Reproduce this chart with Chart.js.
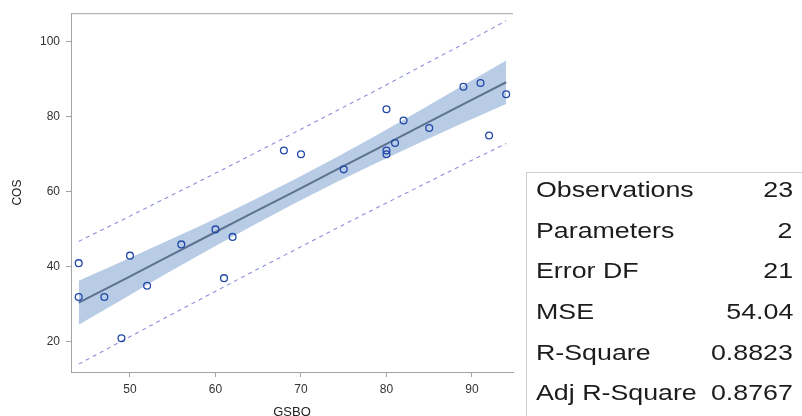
<!DOCTYPE html>
<html>
<head>
<meta charset="utf-8">
<script src="https://cdn.jsdelivr.net/npm/chart.js@4.4.1/dist/chart.umd.min.js"></script>
<style>
  html, body { margin: 0; padding: 0; background: #fff; }
  body { width: 802px; height: 416px; position: relative; overflow: hidden; font-family: 'Liberation Sans', Arial, sans-serif; }
  #wrap { position: absolute; left: 0; top: 0; width: 802px; height: 416px; }
  #statBox { position: absolute; left: 526px; top: 172px; width: 300px; height: 260px; border: 1px solid #cfcfcf; box-sizing: border-box; }
  .statRow { position: absolute; left: 0; width: 802px; height: 40.7px; line-height: 40.7px; font-size: 22.5px; color: #1c1c1c; white-space: nowrap; }
  .statRow .lbl { position: absolute; left: 536px; display: inline-block; transform: scaleX(1.19); transform-origin: left center; }
  .statRow .val { position: absolute; right: 9px; display: inline-block; transform: scaleX(1.19); transform-origin: right center; }
</style>
</head>
<body>
<div id="wrap"><canvas id="fitChart" width="802" height="416"></canvas></div>
<div id="statBox"></div>
<div id="statRows"></div>
<script>
// Quan sát (GSBO, COS)
const obsX = [44, 44, 47, 50, 52, 49, 56, 60, 62, 61, 68, 70, 75, 80, 80, 80, 81, 82, 85, 89, 91, 94, 92];
const obsY = [41, 32, 32, 43, 35, 21, 46, 50, 48, 37, 71, 70, 66, 82, 71, 70, 73, 79, 77, 88, 89, 86, 75];

// Đường hồi quy, dải tin cậy và giới hạn dự báo
const bandX   = [44, 49, 54, 59, 64, 69, 74, 79, 84, 89, 94];
const fitY    = [30.5, 36.3, 42.2, 48.1, 54.0, 59.8, 65.7, 71.6, 77.5, 83.4, 89.2];
const clmLow  = [24.6, 31.2, 37.9, 44.3, 50.6, 56.6, 62.4, 67.9, 73.2, 78.4, 83.4];
const clmHigh = [36.3, 41.4, 46.6, 51.8, 57.3, 63.0, 69.0, 75.3, 81.8, 88.4, 95.0];
const piLow   = [14.1, 20.2, 26.3, 32.3, 38.3, 44.2, 50.1, 55.9, 61.6, 67.3, 72.9];
const piHigh  = [46.8, 52.4, 58.1, 63.8, 69.6, 75.5, 81.4, 87.3, 93.4, 99.4, 105.6];

// Nhãn trục
const xTicks = [50, 60, 70, 80, 90];
const yTicks = [20, 40, 60, 80, 100];

// Bảng thống kê
const statLabels = ['Observations', 'Parameters', 'Error DF', 'MSE', 'R-Square', 'Adj R-Square'];
const statValues = ['23', '2', '21', '54.04', '0.8823', '0.8767'];

const AXIS_COLOR = '#a3a3a3';
const FONT = "'Liberation Sans', Arial, sans-serif";

function toPoints(xs, ys) {
    return xs.map((x, i) => ({ x: x, y: ys[i] }));
}

// Viền trên của khung biểu đồ
const frameTop = {
    id: 'frameTop',
    afterDraw(chart) {
        const { ctx, chartArea } = chart;
        ctx.save();
        ctx.strokeStyle = AXIS_COLOR;
        ctx.lineWidth = 1;
        ctx.beginPath();
        ctx.moveTo(chartArea.left, chartArea.top + 0.5);
        ctx.lineTo(chartArea.right, chartArea.top + 0.5);
        ctx.stroke();
        ctx.restore();
    }
};

function buildChart() {
    const ctx = document.getElementById('fitChart').getContext('2d');
    new Chart(ctx, {
        type: 'scatter',
        data: {
            datasets: [
                {
                    label: 'CLM lower',
                    type: 'line',
                    data: toPoints(bandX, clmLow),
                    borderWidth: 0,
                    pointRadius: 0,
                    fill: false,
                    order: 5
                },
                {
                    label: 'CLM upper',
                    type: 'line',
                    data: toPoints(bandX, clmHigh),
                    borderWidth: 0,
                    pointRadius: 0,
                    backgroundColor: '#b8cce6',
                    fill: '-1',
                    order: 4
                },
                {
                    label: 'PI lower',
                    type: 'line',
                    data: toPoints(bandX, piLow),
                    borderColor: '#8a90da',
                    borderWidth: 1.1,
                    borderDash: [4, 4],
                    pointRadius: 0,
                    fill: false,
                    order: 3
                },
                {
                    label: 'PI upper',
                    type: 'line',
                    data: toPoints(bandX, piHigh),
                    borderColor: '#8a90da',
                    borderWidth: 1.1,
                    borderDash: [4, 4],
                    pointRadius: 0,
                    fill: false,
                    order: 3
                },
                {
                    label: 'Fit',
                    type: 'line',
                    data: toPoints(bandX, fitY),
                    borderColor: '#5d7291',
                    borderWidth: 2,
                    pointRadius: 0,
                    fill: false,
                    order: 2
                },
                {
                    label: 'COS',
                    data: toPoints(obsX, obsY),
                    pointStyle: 'circle',
                    pointRadius: 3.4,
                    pointBorderWidth: 1.3,
                    pointBorderColor: '#2249a8',
                    pointBackgroundColor: 'rgba(0,0,0,0)',
                    order: 1
                }
            ]
        },
        options: {
            responsive: false,
            animation: false,
            devicePixelRatio: 1,
            layout: { padding: { left: 0, top: 9, right: 289, bottom: 0 } },
            plugins: {
                legend: { display: false },
                tooltip: { enabled: false }
            },
            scales: {
                x: {
                    type: 'linear',
                    min: 43.1,
                    max: 94.8,
                    afterFit: scale => { scale.height = 44; },
                    afterBuildTicks: scale => { scale.ticks = xTicks.map(v => ({ value: v })); },
                    border: { display: true, color: AXIS_COLOR, width: 1 },
                    grid: { display: true, drawOnChartArea: false, drawTicks: true, tickLength: 5, color: AXIS_COLOR },
                    ticks: { padding: 5, color: '#333', font: { family: FONT, size: 12 } },
                    title: {
                        display: true,
                        text: 'GSBO',
                        color: '#222',
                        padding: { top: 0, bottom: 0 },
                        font: { family: FONT, size: 13, lineHeight: 0.6 }
                    }
                },
                y: {
                    type: 'linear',
                    min: 12.0,
                    max: 107.6,
                    afterFit: scale => { scale.width = 71; },
                    afterBuildTicks: scale => { scale.ticks = yTicks.map(v => ({ value: v })); },
                    border: { display: true, color: AXIS_COLOR, width: 1 },
                    grid: { display: true, drawOnChartArea: false, drawTicks: true, tickLength: 5, color: AXIS_COLOR },
                    ticks: { padding: 6, color: '#333', font: { family: FONT, size: 12 } },
                    title: {
                        display: true,
                        text: 'COS',
                        color: '#222',
                        padding: { top: 10, bottom: 0 },
                        font: { family: FONT, size: 12 }
                    }
                }
            }
        },
        plugins: [frameTop]
    });
}

// Bảng thống kê bên phải
function buildStats() {
    const holder = document.getElementById('statRows');
    statLabels.forEach((label, i) => {
        const row = document.createElement('div');
        row.className = 'statRow';
        row.style.top = (170.1 + i * 40.66) + 'px';
        const lbl = document.createElement('span');
        lbl.className = 'lbl';
        lbl.textContent = label;
        const val = document.createElement('span');
        val.className = 'val';
        val.textContent = statValues[i];
        row.appendChild(lbl);
        row.appendChild(val);
        holder.appendChild(row);
    });
}

buildChart();
buildStats();
</script>
</body>
</html>
